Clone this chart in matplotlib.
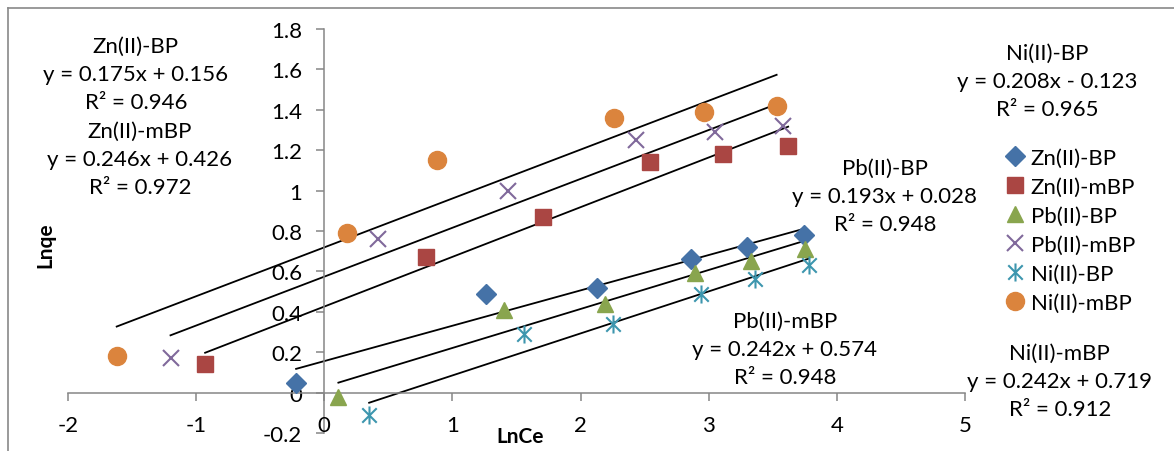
import numpy as np
import matplotlib.pyplot as plt
from matplotlib.lines import Line2D
from matplotlib.path import Path
import matplotlib.transforms as mtransforms

plt.rcParams['font.family'] = ['Lato', 'DejaVu Sans']

# data (LnCe, Lnqe)
zn_bp_x = [-0.22, 1.26, 2.13, 2.86, 3.30, 3.74]
zn_bp_y = [0.05, 0.49, 0.52, 0.66, 0.72, 0.78]
zn_mbp_x = [-0.93, 0.79, 1.71, 2.54, 3.11, 3.62]
zn_mbp_y = [0.14, 0.67, 0.87, 1.14, 1.18, 1.22]
pb_bp_x = [0.11, 1.40, 2.19, 2.89, 3.33, 3.75]
pb_bp_y = [-0.02, 0.41, 0.44, 0.59, 0.65, 0.71]
pb_mbp_x = [-1.20, 0.42, 1.43, 2.43, 3.05, 3.58]
pb_mbp_y = [0.17, 0.76, 1.00, 1.25, 1.29, 1.32]
ni_bp_x = [0.35, 1.56, 2.25, 2.94, 3.36, 3.78]
ni_bp_y = [-0.11, 0.29, 0.34, 0.49, 0.56, 0.63]
ni_mbp_x = [-1.62, 0.18, 0.88, 2.26, 2.96, 3.53]
ni_mbp_y = [0.18, 0.79, 1.15, 1.36, 1.39, 1.42]

names = ['Zn(II)-BP', 'Zn(II)-mBP', 'Pb(II)-BP', 'Pb(II)-mBP', 'Ni(II)-BP', 'Ni(II)-mBP']
slopes = [0.175, 0.246, 0.193, 0.242, 0.208, 0.242]
intercepts = [0.156, 0.426, 0.028, 0.574, -0.123, 0.719]
r2 = [0.946, 0.972, 0.948, 0.948, 0.965, 0.912]

xs_all = [zn_bp_x, zn_mbp_x, pb_bp_x, pb_mbp_x, ni_bp_x, ni_mbp_x]
ys_all = [zn_bp_y, zn_mbp_y, pb_bp_y, pb_mbp_y, ni_bp_y, ni_mbp_y]

colors = ['#4572A7', '#AA4643', '#89A54E', '#80699B', '#3D96AE', '#DB843D']

# Excel style star: vertical bar + X
star = Path([(0, -1), (0, 1), (-0.8, -0.8), (0.8, 0.8), (-0.8, 0.8), (0.8, -0.8)],
            [Path.MOVETO, Path.LINETO] * 3)
markers = ['D', 's', '^', 'x', star, 'o']
msizes = [10, 12, 12, 12, 13, 13]

fig = plt.figure(figsize=(11.74, 4.52), dpi=100)
ax = fig.add_axes([68 / 1174, 1 - 434 / 452, 897 / 1174, 404 / 452])

fs = 16
handles = []
for i in range(6):
    mk = markers[i]
    if mk in ('x',) or mk is star:
        h, = ax.plot(xs_all[i], ys_all[i], ls='none', marker=mk, ms=msizes[i],
                     mec=colors[i], mew=1.5, label=names[i], zorder=3)
    else:
        h, = ax.plot(xs_all[i], ys_all[i], ls='none', marker=mk, ms=msizes[i],
                     mfc=colors[i], mec=colors[i], label=names[i], zorder=3)
    handles.append(h)
    tx = np.array([min(xs_all[i]), max(xs_all[i])])
    ax.plot(tx, slopes[i] * tx + intercepts[i], color='black', lw=1.3, zorder=2)

# equation labels (same order as names)
lab_pos = [(-1.47, 1.577), (-1.44, 1.157), (4.375, 0.972), (3.594, 0.216), (5.64, 1.543), (5.74, 0.057)]
for i in range(6):
    sign = '+' if intercepts[i] >= 0 else '-'
    txt = f'{names[i]}\ny = {slopes[i]:.3f}x {sign} {abs(intercepts[i]):.3f}\nR² = {r2[i]:.3f}'
    ax.text(lab_pos[i][0], lab_pos[i][1], txt, ha='center', va='center',
            multialignment='center', fontsize=fs, linespacing=1.5, clip_on=False)

ax.set_xlim(-2, 5)
ax.set_ylim(-0.2, 1.8)
for s in ['top', 'right']:
    ax.spines[s].set_visible(False)
ax.spines['left'].set_position(('data', 0))
ax.spines['bottom'].set_position(('data', 0))
for s in ['left', 'bottom']:
    ax.spines[s].set_color('#868686')
    ax.spines[s].set_linewidth(1.1)

yt = np.round(np.arange(-0.2, 1.81, 0.2), 1)
ax.set_yticks(yt)
ax.set_yticklabels([f'{v:g}' for v in yt])
xt = np.arange(-2, 6, 1)
ax.set_xticks(xt)
ax.tick_params(axis='both', direction='out', length=6, width=1.1, color='#868686',
               labelsize=fs, pad=10)
ax.tick_params(axis='x', labelbottom=False)

# x tick labels sit low, at the bottom of the plot area
trans = mtransforms.blended_transform_factory(ax.transData, ax.transAxes)
for v in xt:
    ax.text(v, 0.02, f'{v:g}', transform=trans, ha='center', va='center', fontsize=fs)

fig.text(45 / 1174, 1 - 245 / 452, 'Lnqe', rotation=90, ha='center', va='center',
         fontsize=15, fontweight='bold')
fig.text(520 / 1174, 1 - 437 / 452, 'LnCe', ha='center', va='center',
         fontsize=15, fontweight='bold')

leg = ax.legend(handles=handles, loc='upper left', bbox_to_anchor=(995 / 1174, 1 - 138 / 452),
                bbox_transform=fig.transFigure, frameon=False, fontsize=fs,
                handlelength=0.8, handletextpad=0.3, labelspacing=0.4, borderpad=0)

# chart border
fig.add_artist(Line2D([8 / 1174, 1], [1 - 9 / 452] * 2, transform=fig.transFigure,
                      color='#898989', lw=1.2))
fig.add_artist(Line2D([8 / 1174] * 2, [0, 1 - 9 / 452], transform=fig.transFigure,
                      color='#898989', lw=1.2))

fig.savefig('out.png', dpi=100)
